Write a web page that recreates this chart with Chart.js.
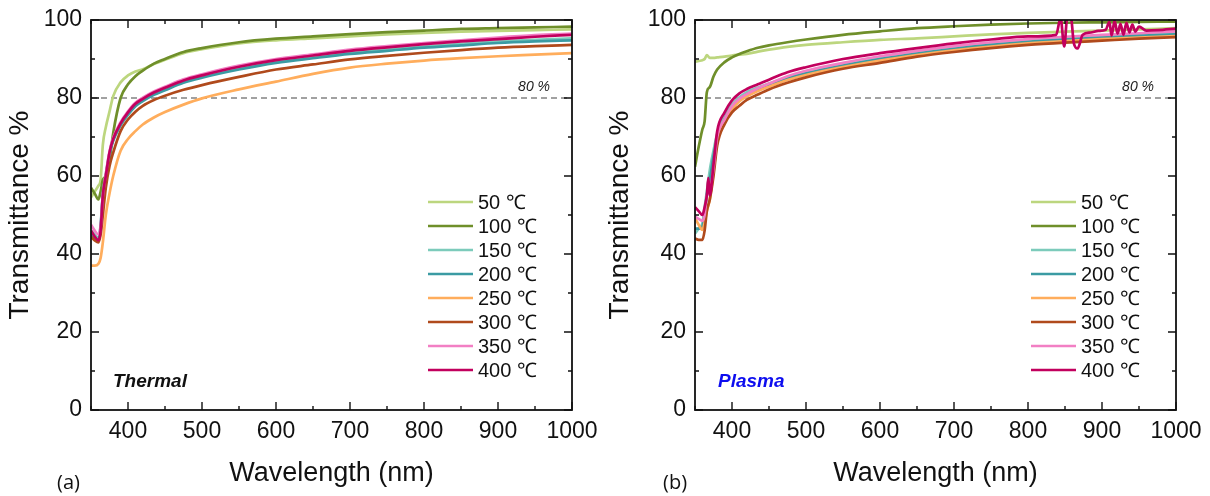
<!DOCTYPE html>
<html>
<head>
<meta charset="utf-8">
<script src="https://cdn.jsdelivr.net/npm/chart.js@4.4.0/dist/chart.umd.min.js"></script>
<style>
  body { margin: 0; background: #fff; width: 1210px; height: 496px; overflow: hidden; position: relative; }
  canvas { position: absolute; top: 0; }
  #chartA { left: 0; }
  #chartB { left: 600px; }
</style>
</head>
<body>
<canvas id="chartA" width="600" height="496"></canvas>
<canvas id="chartB" width="610" height="496"></canvas>
<script>
const WAVELENGTH = [350, 355, 360, 363, 366, 370, 375, 380, 390, 400, 410, 420, 435, 450, 475, 500, 550, 600, 650, 700, 750, 800, 850, 900, 950, 1000];
const X_TICKS = [400, 500, 600, 700, 800, 900, 1000];
const Y_TICKS = [0, 20, 40, 60, 80, 100];
const REF_LEVEL = 80;
const SERIES_LABELS = ['50 ℃', '100 ℃', '150 ℃', '200 ℃', '250 ℃', '300 ℃', '350 ℃', '400 ℃'];

// Thermal (a)
const THERMAL_50  = [54.5, 56, 57.5, 59, 68, 72.5, 76.5, 80.5, 84, 85.8, 86.8, 87.4, 88.7, 89.8, 91.5, 92.5, 94, 94.8, 95.3, 95.8, 96.3, 96.7, 97, 97.2, 97.4, 97.6];
const THERMAL_100 = [57, 55.5, 54, 56, 59, 60, 64, 71, 80, 83.5, 85.6, 87, 88.8, 90, 91.8, 92.8, 94.3, 95.2, 95.8, 96.4, 96.9, 97.3, 97.7, 97.9, 98.1, 98.3];
const THERMAL_150 = [46, 45, 44, 47.5, 55.5, 60.5, 66, 69.5, 73.3, 76, 78.2, 79.5, 81.1, 82.3, 84.2, 85.5, 87.6, 89.3, 90.5, 91.6, 92.4, 93.2, 93.9, 94.5, 94.9, 95.3];
const THERMAL_200 = [45, 44, 43.5, 47, 55, 60, 65.5, 69, 73, 75.7, 77.9, 79.2, 80.8, 82, 83.9, 85.2, 87.3, 89, 90.2, 91.3, 92.1, 92.9, 93.5, 94.1, 94.5, 94.8];
const THERMAL_250 = [37, 37, 37.5, 39, 43, 50, 55.5, 60, 66.5, 69.5, 71.5, 73.2, 75, 76.4, 78.3, 79.9, 82.2, 84.2, 86.2, 87.8, 88.8, 89.6, 90.2, 90.7, 91.1, 91.5];
const THERMAL_300 = [44.4, 43.5, 43, 45, 50, 57, 62.5, 66, 71.5, 74.5, 76.5, 78, 79.5, 80.6, 82.1, 83.3, 85.4, 87.3, 88.6, 89.9, 90.8, 91.6, 92.3, 92.9, 93.3, 93.6];
const THERMAL_350 = [47.5, 46, 45, 47, 55, 60.5, 66.3, 69.8, 73.8, 76.6, 78.8, 80.1, 81.7, 82.9, 84.8, 86.1, 88.3, 90, 91.2, 92.4, 93.3, 94.1, 94.8, 95.5, 96.1, 96.5];
const THERMAL_400 = [46, 44.5, 43.5, 46, 55, 60, 66, 69.5, 73.5, 76.3, 78.5, 79.8, 81.4, 82.6, 84.5, 85.8, 88, 89.7, 90.9, 92.1, 93, 93.8, 94.5, 95.1, 95.7, 96.2];

// Plasma (b)
const PLASMA_50  = [89.3, 89.5, 89.7, 90, 91, 90.3, 90.3, 90.4, 90.6, 90.9, 91.1, 91.3, 91.9, 92.4, 93.1, 93.6, 94.3, 94.9, 95.3, 95.8, 96.3, 96.7, 97, 97.3, 97.6, 97.9];
const PLASMA_100 = [62.4, 67.5, 72, 74, 81.5, 82.8, 85.5, 87.3, 89.2, 90.4, 91.3, 92, 92.9, 93.5, 94.3, 95, 96.2, 97.1, 97.9, 98.4, 98.8, 99.1, 99.3, 99.4, 99.5, 99.6];
const PLASMA_150 = [45.3, 46.5, 47.9, 52, 56, 61.5, 66.5, 70.8, 75.5, 78.3, 80.2, 81.5, 82.7, 83.7, 85.3, 86.4, 88.5, 90.2, 91.6, 92.8, 93.8, 94.6, 95.2, 95.7, 96.1, 96.5];
const PLASMA_200 = [46.5, 46.5, 47, 50, 55, 59, 65, 69.5, 74.5, 77.6, 79.6, 80.9, 82.2, 83.3, 85, 86.3, 88.3, 90, 91.4, 92.6, 93.6, 94.4, 95, 95.5, 96, 96.3];
const PLASMA_250 = [49.2, 47.5, 46.2, 48, 51, 54, 61, 68.8, 73.8, 77, 79.2, 80.4, 81.8, 82.9, 84.6, 85.9, 87.9, 89.6, 91, 92.2, 93.2, 94, 94.6, 95.1, 95.5, 95.9];
const PLASMA_300 = [44, 43.6, 43.6, 46, 51, 54, 60, 67.8, 73.3, 76.3, 78, 79.5, 80.9, 82.2, 83.9, 85.3, 87.5, 89, 90.6, 91.8, 92.8, 93.6, 94.2, 94.7, 95.2, 95.6];
const PLASMA_350 = [49.6, 49, 48.5, 50, 55, 56, 62, 70, 74.5, 77.9, 79.8, 81, 82.5, 83.7, 85.6, 87, 89, 90.7, 92.1, 93.3, 94.3, 95.1, 95.7, 96.2, 96.6, 97.1];
// 400 ℃ plasma has its own wavelength grid to follow the noisy stretches
const PLASMA_400_WL = [350, 355, 360, 363, 366, 368, 370, 375, 380, 390, 400, 410, 420, 435, 450, 475, 500, 550, 600, 650, 700, 750, 800, 838,
  844, 849, 853, 858, 862, 867, 874, 885, 895, 905, 910, 913, 917, 921, 925, 929, 933, 937, 941, 945, 950, 960, 975, 1000];
const PLASMA_400 = [52, 51, 50, 52, 55, 59.5, 55, 63, 71.5, 76.3, 79.4, 81.2, 82.3, 83.5, 84.7, 86.6, 87.9, 90, 91.5, 92.8, 94, 95, 95.8, 96.2,
  100.5, 93.2, 100.5, 100.5, 94, 92.7, 96.2, 96.8, 97.2, 97.5, 99.5, 96, 99.8, 96.5, 99, 96.2, 99.3, 96.8, 98.8, 97, 98.3, 97.3, 97.4, 97.8];

const SERIES_COLORS = ['#bcd67e', '#6f8f2a', '#7ccbbb', '#3b9ba3', '#ffad5c', '#b04a1c', '#f27fc4', '#c2005e'];
const FONT = "'Liberation Sans', Arial, Helvetica, sans-serif";

function toPoints(wl, vals) {
  return vals.map((t, j) => ({ x: wl[j], y: t }));
}

function buildDatasets(series) {
  const sets = series.map((s, i) => ({
    label: SERIES_LABELS[i],
    data: toPoints(s.wl, s.vals),
    borderColor: SERIES_COLORS[i],
    borderWidth: 2.7,
    pointRadius: 0,
    fill: false,
    cubicInterpolationMode: 'monotone',
    order: series.length - i
  }));
  sets.push({
    label: 'ref',
    data: [{ x: 350, y: REF_LEVEL }, { x: 1000, y: REF_LEVEL }],
    borderColor: '#444',
    borderWidth: 1.2,
    borderDash: [6, 4],
    pointRadius: 0,
    order: 99
  });
  return sets;
}

// frame, inward ticks, legend and the little labels
const decorPlugin = {
  id: 'decor',
  afterDatasetsDraw(chart, args, opts) {
    const { ctx, chartArea: a, scales: { x, y } } = chart;
    ctx.save();
    ctx.strokeStyle = '#111';
    ctx.lineWidth = 1.8;
    ctx.strokeRect(a.left, a.top, a.right - a.left, a.bottom - a.top);

    ctx.lineWidth = 1.4;
    ctx.beginPath();
    X_TICKS.forEach(v => {
      [[v, 8], [v - 50, 4]].forEach(([val, len]) => {
        const px = x.getPixelForValue(val);
        ctx.moveTo(px, a.bottom); ctx.lineTo(px, a.bottom - len);
        ctx.moveTo(px, a.top); ctx.lineTo(px, a.top + len);
      });
    });
    Y_TICKS.forEach((v, i) => {
      const marks = [[v, 8]];
      if (i > 0) marks.push([v - 10, 4]);
      marks.forEach(([val, len]) => {
        const py = y.getPixelForValue(val);
        ctx.moveTo(a.left, py); ctx.lineTo(a.left + len, py);
        ctx.moveTo(a.right, py); ctx.lineTo(a.right - len, py);
      });
    });
    ctx.stroke();

    // 80 % note
    ctx.fillStyle = '#222';
    ctx.font = `italic 14px ${FONT}`;
    ctx.textAlign = 'right';
    ctx.textBaseline = 'alphabetic';
    ctx.fillText('80 %', a.right - 22, y.getPixelForValue(REF_LEVEL) - 7);

    // method label
    ctx.fillStyle = opts.tagColor;
    ctx.font = `italic bold 19px ${FONT}`;
    ctx.textAlign = 'left';
    ctx.fillText(opts.tag, a.left + opts.tagDx, a.bottom - 23);

    // legend
    ctx.font = `20px ${FONT}`;
    ctx.textBaseline = 'middle';
    SERIES_LABELS.forEach((lab, i) => {
      const ly = a.top + 182 + i * 24;
      const lx = a.right - opts.legendDx;
      ctx.strokeStyle = SERIES_COLORS[i];
      ctx.lineWidth = 2.7;
      ctx.beginPath();
      ctx.moveTo(lx, ly); ctx.lineTo(lx + 45, ly);
      ctx.stroke();
      ctx.fillStyle = '#111';
      ctx.fillText(lab, lx + 50, ly + 1);
    });

    // panel letter
    ctx.font = `20px 'Open Sans', ${FONT}`;
    ctx.textBaseline = 'alphabetic';
    ctx.fillText(opts.panel, opts.panelX, 489);
    ctx.restore();
  }
};

function makeChart(canvasId, series, opts) {
  const ctx = document.getElementById(canvasId).getContext('2d');
  return new Chart(ctx, {
    type: 'line',
    data: { datasets: buildDatasets(series) },
    plugins: [decorPlugin],
    options: {
      responsive: false,
      animation: false,
      devicePixelRatio: 1,
      layout: { padding: { left: 0, right: opts.padRight, top: 20, bottom: 0 } },
      plugins: {
        legend: { display: false },
        tooltip: { enabled: false },
        decor: opts
      },
      scales: {
        x: {
          type: 'linear',
          min: 350,
          max: 1000,
          afterBuildTicks: s => { s.ticks = X_TICKS.map(v => ({ value: v })); },
          afterFit: s => { s.height = 86; s.paddingLeft = 0; s.paddingRight = 0; },
          grid: { display: false, drawTicks: false },
          border: { display: false },
          ticks: {
            color: '#111', font: { size: 23, family: FONT }, padding: 8, maxRotation: 0, autoSkip: false,
            callback: v => String(v)
          },
          title: { display: true, text: 'Wavelength (nm)', color: '#111', font: { size: 27, family: FONT }, padding: { top: 0, bottom: 6 } }
        },
        y: {
          min: 0,
          max: 100,
          afterBuildTicks: s => { s.ticks = Y_TICKS.map(v => ({ value: v })); },
          afterFit: s => { s.width = opts.padLeft; s.paddingTop = 0; s.paddingBottom = 0; },
          grid: { display: false, drawTicks: false },
          border: { display: false },
          ticks: { color: '#111', font: { size: 23, family: FONT }, padding: 9, callback: v => String(v) },
          title: { display: true, text: 'Transmittance %', color: '#111', font: { size: 28, family: FONT }, padding: { top: 3, bottom: 0 } }
        }
      }
    }
  });
}

window.addEventListener('DOMContentLoaded', () => {
  const thermal = [THERMAL_50, THERMAL_100, THERMAL_150, THERMAL_200, THERMAL_250, THERMAL_300, THERMAL_350, THERMAL_400]
    .map(vals => ({ wl: WAVELENGTH, vals }));
  const plasma = [PLASMA_50, PLASMA_100, PLASMA_150, PLASMA_200, PLASMA_250, PLASMA_300, PLASMA_350]
    .map(vals => ({ wl: WAVELENGTH, vals }));
  plasma.push({ wl: PLASMA_400_WL, vals: PLASMA_400 });

  makeChart('chartA', thermal, {
    padLeft: 91, padRight: 28, tag: 'Thermal', tagColor: '#111', tagDx: 22,
    legendDx: 144, panel: '(a)', panelX: 57
  });
  makeChart('chartB', plasma, {
    padLeft: 95, padRight: 34, tag: 'Plasma', tagColor: '#0d0def', tagDx: 23,
    legendDx: 145, panel: '(b)', panelX: 63
  });
});
</script>
</body>
</html>
